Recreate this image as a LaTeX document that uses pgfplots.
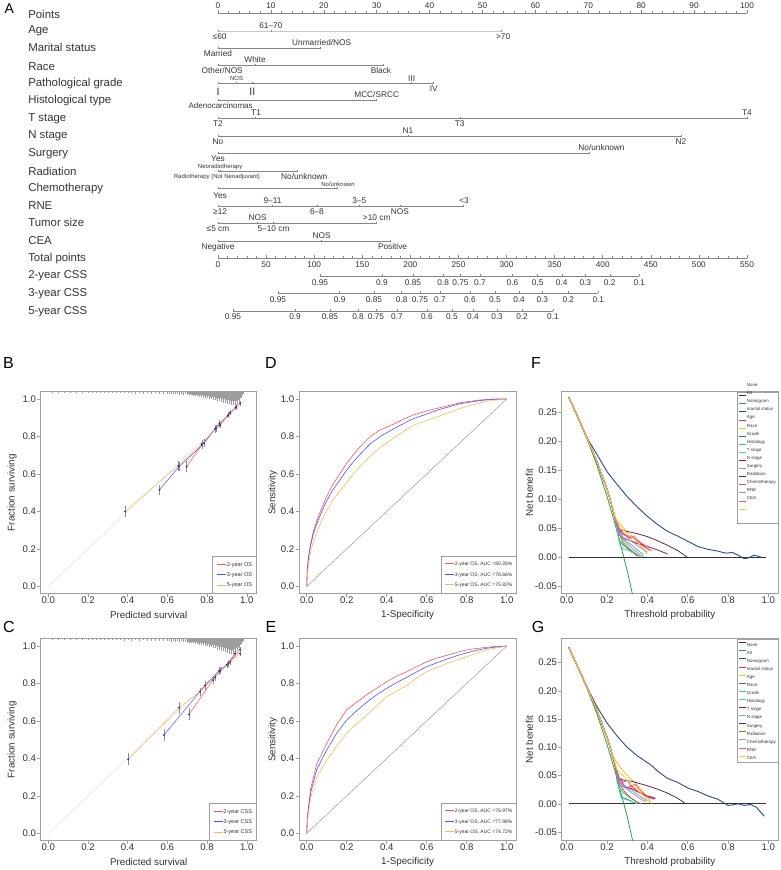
\documentclass[border=0pt]{standalone}
\usepackage{fontspec}
\setmainfont{Liberation Sans}
\usepackage{pgfplots}
\usepackage{pgfplotstable}
\pgfplotsset{compat=1.18}

\definecolor{txt}{HTML}{333333}
\definecolor{axc}{HTML}{A0A0A0}
\definecolor{nl}{HTML}{858585}
\definecolor{agel}{HTML}{C8C8C8}
\definecolor{ebar}{HTML}{8C8C8C}
\definecolor{cRed}{HTML}{FF5050}
\definecolor{cBlue}{HTML}{5050FF}
\definecolor{cOrg}{HTML}{FFB84D}
\definecolor{dot}{HTML}{2A2A9A}
\definecolor{dNone}{HTML}{333333}
\definecolor{dAll}{HTML}{2E9E3E}
\definecolor{dNomo}{HTML}{2B4A8C}
\definecolor{dMar}{HTML}{E8323C}
\definecolor{dAge}{HTML}{F5C518}
\definecolor{dRace}{HTML}{2A8B4A}
\definecolor{dGrade}{HTML}{4CC080}
\definecolor{dHist}{HTML}{3FD2D8}
\definecolor{dT}{HTML}{A3123F}
\definecolor{dN}{HTML}{74A8D8}
\definecolor{dSurg}{HTML}{5C2A4E}
\definecolor{dRad}{HTML}{A86A3C}
\definecolor{dChemo}{HTML}{A08CD8}
\definecolor{dRNE}{HTML}{FF4590}
\definecolor{dCEA}{HTML}{F2D43A}

\newcommand{\fs}[1]{\fontsize{#1}{#1}\selectfont}
\newcommand{\rl}[1]{\raisebox{12.5pt}[0pt][0pt]{#1}}

\tikzset{
  rowlab/.style={font=\fs{11.4}, text=txt, anchor=base west, inner sep=0pt},
  ab/.style={font=\fs{8.3}, text=txt, anchor=base, inner sep=0pt},
  sm/.style={font=\fs{6}, text=txt, anchor=base, inner sep=0pt},
  big/.style={font=\fs{10.7}, text=txt, anchor=base, inner sep=0pt},
  plab/.style={font=\fs{16}, anchor=center, inner sep=0pt},
}

\pgfplotsset{
  nomo/.style={scale only axis, width=529pt, height=320pt, ymin=0, ymax=320,
    y dir=reverse, hide axis, clip=false, at={(218pt,0pt)}, anchor=north west},
  nline/.style={color=nl, line width=0.6pt, forget plot},
  ntick/.style={only marks, mark=|, mark size=1.4pt, forget plot,
    mark options={color=nl, line width=0.5pt}},
  uptick/.style={only marks, mark=|, mark size=#1, forget plot,
    mark options={color=nl, line width=0.5pt, yshift=#1}},
  rpanel/.style={scale only axis, width=216pt, height=202pt,
    axis line style={axc, line width=0.5pt}, tick style={axc, line width=0.5pt},
    tick align=outside, tick pos=left, major tick length=3.5pt,
    ticklabel style={font=\fs{9.6}, text=txt, inner sep=1pt},
    xticklabel style={yshift=2pt},
    label style={font=\fs{9.8}, text=txt},
    xlabel style={at={(axis description cs:0.5,-0.104)}, anchor=center},
    xtick={0,0.2,0.4,0.6,0.8,1}, xticklabels={0.0,0.2,0.4,0.6,0.8,1.0}},
  unit/.style={rpanel, ymin=-0.039, ymax=1.039,
    ytick={0,0.2,0.4,0.6,0.8,1}, yticklabels={0.0,0.2,0.4,0.6,0.8,1.0}},
  calib/.style={unit, xmin=-0.038, xmax=1.05,
    xlabel={Predicted survival}, ylabel={Fraction surviving},
    ylabel style={at={(axis description cs:-0.133,0.5)}, anchor=center},
    legend cell align=left,
    legend style={at={(1,0)}, anchor=south east, draw=axc, line width=0.4pt,
      font=\fs{5.5}, text=txt, inner xsep=4pt, inner ysep=5pt, row sep=4pt,
      nodes={inner sep=0.5pt, text height=4.2pt, text depth=1.2pt}},
    legend image code/.code={\draw[##1, line width=1pt] (0pt,0pt) -- (9pt,0pt);}},
  roc/.style={unit, width=217pt, xmin=-0.0385, xmax=1.0465,
    xlabel={1-Specificity}, ylabel={Sensitivity},
    ylabel style={at={(axis description cs:-0.12,0.5)}, anchor=center},
    legend cell align=left,
    legend style={at={(1,0)}, anchor=south east, draw=axc, line width=0.4pt,
      font=\fs{5}, text=txt, inner xsep=3pt, inner ysep=5pt, row sep=4.5pt,
      nodes={inner sep=0.5pt, text height=4pt, text depth=1.2pt}},
    legend image code/.code={\draw[##1, line width=1pt] (0pt,0.5pt) -- (9pt,0.5pt);}},
  dca/.style={rpanel, width=216.3pt, xmin=-0.025, xmax=1.048,
    ytick={-0.05,0,0.05,0.1,0.15,0.2,0.25},
    yticklabels={-0.05,0.00,0.05,0.10,0.15,0.20,0.25},
    xlabel={Threshold probability}, ylabel={Net benefit},
    ylabel style={at={(axis description cs:-0.15,0.5)}, anchor=center},
    legend cell align=left,
    legend style={at={(1,1)}, anchor=north east, draw=axc, line width=0.4pt,
      font=\fs{4.4}, text=txt, inner xsep=1.5pt, inner ysep=1pt, row sep=0pt,
      nodes={inner sep=0.5pt, text height=5.6pt, text depth=1.5pt}},
    legend image code/.code={\draw[##1, line width=1pt] (0pt,1.2pt) -- (7pt,1.2pt);}},
  dc/.style={line width=0.8pt},
  spk/.style={draw=none, mark=none, forget plot, error bars/.cd, y dir=minus, y explicit,
    error mark=none, error bar style={color=black!38, line width=0.3pt}},
  pts/.style={only marks, mark=*, mark size=0.7pt, color=dot, forget plot,
    error bars/.cd, y dir=both, y explicit, error mark=-,
    error mark options={mark size=1.3pt, color=ebar, line width=0.4pt},
    error bar style={color=ebar, line width=0.4pt}},
}

% calibration tables
\pgfplotstableread{
x y e
0.697 0.639 0.022
0.773 0.755 0.015
0.840 0.840 0.012
0.866 0.861 0.010
0.916 0.927 0.008
0.966 0.977 0.005
}\bTwo
\pgfplotstableread{
x y e
0.560 0.515 0.020
0.659 0.639 0.018
0.785 0.764 0.015
0.862 0.870 0.010
0.908 0.915 0.008
0.945 0.959 0.005
}\bThree
\pgfplotstableread{
x y e
0.387 0.400 0.022
0.655 0.644 0.020
0.773 0.760 0.015
0.845 0.845 0.012
0.904 0.911 0.008
0.945 0.954 0.006
}\bFive
\pgfplotstableread{
x y e
0.709 0.635 0.025
0.829 0.819 0.015
0.866 0.867 0.012
0.916 0.916 0.009
0.966 0.982 0.005
}\cTwo
\pgfplotstableread{
x y e
0.583 0.525 0.025
0.790 0.790 0.018
0.860 0.868 0.012
0.908 0.907 0.010
0.940 0.960 0.008
}\cThree
\pgfplotstableread{
x y e
0.403 0.395 0.025
0.659 0.671 0.025
0.765 0.756 0.015
0.840 0.833 0.012
0.900 0.900 0.010
0.966 0.960 0.006
}\cFive

\pgfplotstableread{
x h
0.02 0.003
0.05 0.003
0.08 0.003
0.11 0.003
0.14 0.003
0.17 0.003
0.20 0.003
0.22 0.003
0.24 0.002
0.26 0.004
0.28 0.003
0.30 0.004
0.32 0.003
0.34 0.005
0.36 0.003
0.38 0.005
0.40 0.004
0.42 0.005
0.44 0.006
0.46 0.004
0.48 0.006
0.50 0.005
0.52 0.007
0.54 0.005
0.56 0.007
0.58 0.008
0.60 0.006
0.61 0.009
0.62 0.006
0.63 0.009
0.64 0.010
0.65 0.007
0.66 0.011
0.67 0.008
0.68 0.012
0.69 0.009
0.70 0.014
0.705 0.009
0.71 0.015
0.715 0.010
0.72 0.016
0.725 0.011
0.73 0.018
0.735 0.012
0.74 0.019
0.745 0.013
0.75 0.021
0.755 0.014
0.76 0.023
0.765 0.015
0.77 0.025
0.775 0.016
0.78 0.027
0.785 0.018
0.79 0.029
0.795 0.019
0.80 0.031
0.805 0.021
0.81 0.034
0.815 0.022
0.82 0.036
0.825 0.024
0.83 0.039
0.835 0.026
0.84 0.042
0.845 0.028
0.85 0.045
0.855 0.030
0.86 0.048
0.865 0.032
0.87 0.051
0.875 0.035
0.88 0.054
0.885 0.037
0.89 0.057
0.895 0.040
0.90 0.060
0.905 0.042
0.91 0.063
0.915 0.045
0.92 0.066
0.925 0.047
0.93 0.068
0.935 0.048
0.94 0.066
0.945 0.046
0.95 0.062
0.955 0.040
0.96 0.052
0.965 0.030
0.97 0.032
0.975 0.014
0.98 0.008
}\bSpk

\pgfplotstableread{
x h
0.02 0.003
0.05 0.003
0.08 0.003
0.11 0.003
0.14 0.003
0.17 0.003
0.20 0.003
0.22 0.003
0.24 0.003
0.26 0.004
0.28 0.003
0.30 0.004
0.32 0.004
0.34 0.005
0.36 0.004
0.38 0.006
0.40 0.004
0.42 0.006
0.44 0.005
0.46 0.007
0.48 0.005
0.50 0.007
0.52 0.008
0.54 0.006
0.56 0.009
0.58 0.007
0.60 0.010
0.61 0.008
0.62 0.011
0.63 0.008
0.64 0.012
0.65 0.009
0.66 0.013
0.67 0.010
0.68 0.015
0.69 0.011
0.70 0.017
0.705 0.011
0.71 0.018
0.715 0.012
0.72 0.019
0.725 0.013
0.73 0.021
0.735 0.014
0.74 0.023
0.745 0.015
0.75 0.025
0.755 0.017
0.76 0.027
0.765 0.018
0.77 0.029
0.775 0.020
0.78 0.031
0.785 0.021
0.79 0.034
0.795 0.023
0.80 0.036
0.805 0.025
0.81 0.039
0.815 0.027
0.82 0.042
0.825 0.029
0.83 0.045
0.835 0.031
0.84 0.048
0.845 0.034
0.85 0.052
0.855 0.036
0.86 0.056
0.865 0.039
0.87 0.060
0.875 0.042
0.88 0.064
0.885 0.045
0.89 0.069
0.895 0.048
0.90 0.073
0.905 0.051
0.91 0.076
0.915 0.054
0.92 0.078
0.925 0.055
0.93 0.075
0.935 0.052
0.94 0.070
0.945 0.048
0.95 0.062
0.955 0.040
0.96 0.048
0.965 0.028
0.97 0.024
0.975 0.012
0.98 0.006
}\cSpk

\begin{document}
\begin{tikzpicture}
\path[use as bounding box] (0pt,0pt) rectangle (780pt,-870pt);

\node[plab, font=\fs{14}] at (9.2pt,-8.3pt) {A};
\node[plab] at (8.5pt,-362.5pt) {B};
\node[plab] at (271pt,-362.5pt) {D};
\node[plab] at (536pt,-362.5pt) {F};
\node[plab] at (9pt,-627pt) {C};
\node[plab] at (271pt,-627pt) {E};
\node[plab] at (538pt,-627pt) {G};

%% ---------------- nomogram: variable rows (points scale 0-100)
\begin{axis}[nomo, xmin=0, xmax=100]
\node[rowlab] at (axis cs:-35.9,18.1) {Points};
\node[rowlab] at (axis cs:-35.9,33.4) {Age};
\node[rowlab] at (axis cs:-35.9,51.8) {Marital status};
\node[rowlab] at (axis cs:-35.9,70.1) {Race};
\node[rowlab] at (axis cs:-35.9,86.8) {Pathological grade};
\node[rowlab] at (axis cs:-35.9,103.4) {Histological type};
\node[rowlab] at (axis cs:-35.9,121.8) {T stage};
\node[rowlab] at (axis cs:-35.9,138.4) {N stage};
\node[rowlab] at (axis cs:-35.9,156.8) {Surgery};
\node[rowlab] at (axis cs:-35.9,175.1) {Radiation};
\node[rowlab] at (axis cs:-35.9,191.4) {Chemotherapy};
\node[rowlab] at (axis cs:-35.9,209.8) {RNE};
\node[rowlab] at (axis cs:-35.9,226.8) {Tumor size};
\node[rowlab] at (axis cs:-35.9,244.1) {CEA};
\node[rowlab] at (axis cs:-35.9,261.4) {Total points};
\node[rowlab] at (axis cs:-35.9,278.4) {2-year CSS};
\node[rowlab] at (axis cs:-35.9,296.8) {3-year CSS};
\node[rowlab] at (axis cs:-35.9,314.1) {5-year CSS};

% Points axis
\addplot[nline] coordinates {(0,13) (100,13)};
\addplot[uptick=1.6pt] coordinates {(0,13)(10,13)(20,13)(30,13)(40,13)(50,13)(60,13)(70,13)(80,13)(90,13)(100,13)};
\addplot[uptick=0.9pt] coordinates {(2,13)(4,13)(6,13)(8,13)(12,13)(14,13)(16,13)(18,13)(22,13)(24,13)(26,13)(28,13)(32,13)(34,13)(36,13)(38,13)(42,13)(44,13)(46,13)(48,13)(52,13)(54,13)(56,13)(58,13)(62,13)(64,13)(66,13)(68,13)(72,13)(74,13)(76,13)(78,13)(82,13)(84,13)(86,13)(88,13)(92,13)(94,13)(96,13)(98,13)};
\node[ab] at (axis cs:0,8) {0};
\node[ab] at (axis cs:10,8) {10};
\node[ab] at (axis cs:20,8) {20};
\node[ab] at (axis cs:30,8) {30};
\node[ab] at (axis cs:40,8) {40};
\node[ab] at (axis cs:50,8) {50};
\node[ab] at (axis cs:60,8) {60};
\node[ab] at (axis cs:70,8) {70};
\node[ab] at (axis cs:80,8) {80};
\node[ab] at (axis cs:90,8) {90};
\node[ab] at (axis cs:100,8) {100};

% Age
\addplot[nline, color=agel, line width=1pt] coordinates {(0,31) (53.5,31)};
\addplot[ntick] coordinates {(0,31)(10,31)(53.5,31)};
\node[ab] at (axis cs:10,28) {61–70};
\node[ab] at (axis cs:0.3,39.7) {≤60};
\node[ab] at (axis cs:53.9,39.7) {>70};
% Marital status
\addplot[nline] coordinates {(0,48) (19.4,48)};
\addplot[ntick] coordinates {(0,48)(19.4,48)};
\node[ab] at (axis cs:19.6,45) {Unmarried/NOS};
\node[ab] at (axis cs:0,56.7) {Married};
% Race
\addplot[nline] coordinates {(0,65) (31.2,65)};
\addplot[ntick] coordinates {(0,65)(7,65)(31.2,65)};
\node[ab] at (axis cs:7,62) {White};
\node[ab] at (axis cs:0.8,73.7) {Other/NOS};
\node[ab] at (axis cs:30.8,73.7) {Black};
% Pathological grade
\addplot[nline] coordinates {(0,83) (40.6,83)};
\addplot[ntick] coordinates {(0,83)(3.5,83)(6.5,83)(36.6,83)(40.6,83)};
\node[sm] at (axis cs:3.5,80.5) {NOS};
\node[big] at (axis cs:0,95) {I};
\node[big] at (axis cs:6.5,95) {II};
\node[ab] at (axis cs:36.6,81) {III};
\node[ab] at (axis cs:40.8,91.7) {IV};
% Histological type
\addplot[nline] coordinates {(0,100) (30,100)};
\addplot[ntick] coordinates {(0,100)(30,100)};
\node[ab] at (axis cs:30,97) {MCC/SRCC};
\node[ab, font=\fs{8}] at (axis cs:0.5,108.4) {Adenocarcinomas};
% T stage
\addplot[nline] coordinates {(0,118) (100,118)};
\addplot[ntick] coordinates {(0,118)(7,118)(45.7,118)(100,118)};
\node[ab] at (axis cs:7.2,115.3) {T1};
\node[ab] at (axis cs:100,115) {T4};
\node[ab] at (axis cs:0,126.7) {T2};
\node[ab] at (axis cs:45.7,126.7) {T3};
% N stage
\addplot[nline] coordinates {(0,136) (87.5,136)};
\addplot[ntick] coordinates {(0,136)(35.9,136)(87.5,136)};
\node[ab] at (axis cs:35.9,133) {N1};
\node[ab] at (axis cs:0,144.7) {No};
\node[ab] at (axis cs:87.5,144.7) {N2};
% Surgery
\addplot[nline] coordinates {(0,153) (70.2,153)};
\addplot[ntick] coordinates {(0,153)(70.2,153)};
\node[ab] at (axis cs:72.5,150.5) {No/unknown};
\node[ab] at (axis cs:0,161.7) {Yes};
% Radiation
\addplot[nline] coordinates {(0,171) (14.9,171)};
\addplot[ntick] coordinates {(0,171)(0.5,171)(14.9,171)};
\node[sm] at (axis cs:0.4,168) {Neoradiotherapy};
\node[sm] at (axis cs:-0.2,178.2) {Radiotherapy (Not Neoadjuvant)};
\node[ab] at (axis cs:16.3,179) {No/unknown};
% Chemotherapy
\addplot[nline] coordinates {(0,188) (22.5,188)};
\addplot[ntick] coordinates {(0,188)(22.5,188)};
\node[sm] at (axis cs:22.7,186.3) {No/unknown};
\node[ab] at (axis cs:0.4,198) {Yes};
% RNE
\addplot[nline] coordinates {(0,206) (46.3,206)};
\addplot[ntick] coordinates {(0,206)(10.3,206)(18.7,206)(26.7,206)(34.4,206)(46.3,206)};
\node[ab] at (axis cs:10.3,203) {9–11};
\node[ab] at (axis cs:26.7,203) {3–5};
\node[ab] at (axis cs:46.5,203) {<3};
\node[ab] at (axis cs:0.4,214.7) {≥12};
\node[ab] at (axis cs:18.7,214.7) {6–8};
\node[ab] at (axis cs:34.4,214.7) {NOS};
% Tumor size
\addplot[nline] coordinates {(0,223) (30,223)};
\addplot[ntick] coordinates {(0,223)(7.5,223)(10.5,223)(30,223)};
\node[ab] at (axis cs:7.5,220) {NOS};
\node[ab] at (axis cs:30,220) {>10 cm};
\node[ab] at (axis cs:0,231.7) {≤5 cm};
\node[ab] at (axis cs:10.5,231.7) {5–10 cm};
% CEA
\addplot[nline] coordinates {(0,241) (32.6,241)};
\addplot[ntick] coordinates {(0,241)(19.6,241)(32.6,241)};
\node[ab] at (axis cs:19.6,238) {NOS};
\node[ab] at (axis cs:0,249.7) {Negative};
\node[ab] at (axis cs:33,249.7) {Positive};
\end{axis}

%% ---------------- nomogram: total points and survival scales (0-550)
\begin{axis}[nomo, xmin=0, xmax=550]
\addplot[nline] coordinates {(0,258) (550,258)};
\addplot[uptick=1.6pt] coordinates {(0,258)(50,258)(100,258)(150,258)(200,258)(250,258)(300,258)(350,258)(400,258)(450,258)(500,258)(550,258)};
\addplot[uptick=0.9pt] coordinates {(10,258)(20,258)(30,258)(40,258)(60,258)(70,258)(80,258)(90,258)(110,258)(120,258)(130,258)(140,258)(160,258)(170,258)(180,258)(190,258)(210,258)(220,258)(230,258)(240,258)(260,258)(270,258)(280,258)(290,258)(310,258)(320,258)(330,258)(340,258)(360,258)(370,258)(380,258)(390,258)(410,258)(420,258)(430,258)(440,258)(460,258)(470,258)(480,258)(490,258)(510,258)(520,258)(530,258)(540,258)};
\node[ab] at (axis cs:0,267) {0};
\node[ab] at (axis cs:50,267) {50};
\node[ab] at (axis cs:100,267) {100};
\node[ab] at (axis cs:150,267) {150};
\node[ab] at (axis cs:200,267) {200};
\node[ab] at (axis cs:250,267) {250};
\node[ab] at (axis cs:300,267) {300};
\node[ab] at (axis cs:350,267) {350};
\node[ab] at (axis cs:400,267) {400};
\node[ab] at (axis cs:450,267) {450};
\node[ab] at (axis cs:500,267) {500};
\node[ab] at (axis cs:550,267) {550};

% 2-year CSS
\addplot[nline] coordinates {(106.0,276) (438.0,276)};
\addplot[uptick=1.2pt] coordinates {(106.0,276)(170.5,276)(202.7,276)(234.2,276)(252.1,276)(272.4,276)(306.2,276)(332.4,276)(357.4,276)(381.9,276)(407.3,276)(438.0,276)};
\node[ab] at (axis cs:106.0,285.5) {0.95};
\node[ab] at (axis cs:170.5,285.5) {0.9};
\node[ab] at (axis cs:202.7,285.5) {0.85};
\node[ab] at (axis cs:234.2,285.5) {0.8};
\node[ab] at (axis cs:252.1,285.5) {0.75};
\node[ab] at (axis cs:272.4,285.5) {0.7};
\node[ab] at (axis cs:306.2,285.5) {0.6};
\node[ab] at (axis cs:332.4,285.5) {0.5};
\node[ab] at (axis cs:357.4,285.5) {0.4};
\node[ab] at (axis cs:381.9,285.5) {0.3};
\node[ab] at (axis cs:407.3,285.5) {0.2};
\node[ab] at (axis cs:438.0,285.5) {0.1};
% 3-year CSS
\addplot[nline] coordinates {(62.4,293.3) (395.4,293.3)};
\addplot[uptick=1.2pt] coordinates {(62.4,293.3)(126.5,293.3)(162.2,293.3)(191.0,293.3)(210.0,293.3)(230.8,293.3)(262.0,293.3)(288.0,293.3)(313.0,293.3)(337.2,293.3)(364.2,293.3)(395.4,293.3)};
\node[ab] at (axis cs:62.4,302.1) {0.95};
\node[ab] at (axis cs:126.5,302.1) {0.9};
\node[ab] at (axis cs:162.2,302.1) {0.85};
\node[ab] at (axis cs:191.0,302.1) {0.8};
\node[ab] at (axis cs:210.0,302.1) {0.75};
\node[ab] at (axis cs:230.8,302.1) {0.7};
\node[ab] at (axis cs:262.0,302.1) {0.6};
\node[ab] at (axis cs:288.0,302.1) {0.5};
\node[ab] at (axis cs:313.0,302.1) {0.4};
\node[ab] at (axis cs:337.2,302.1) {0.3};
\node[ab] at (axis cs:364.2,302.1) {0.2};
\node[ab] at (axis cs:395.4,302.1) {0.1};
% 5-year CSS
\addplot[nline] coordinates {(15.6,311) (348.3,311)};
\addplot[uptick=1.2pt] coordinates {(15.6,311)(80.1,311)(116.4,311)(145.6,311)(164.3,311)(186.1,311)(217.3,311)(243.3,311)(265.1,311)(290.1,311)(316.1,311)(348.3,311)};
\node[ab] at (axis cs:15.6,319) {0.95};
\node[ab] at (axis cs:80.1,319) {0.9};
\node[ab] at (axis cs:116.4,319) {0.85};
\node[ab] at (axis cs:145.6,319) {0.8};
\node[ab] at (axis cs:164.3,319) {0.75};
\node[ab] at (axis cs:186.1,319) {0.7};
\node[ab] at (axis cs:217.3,319) {0.6};
\node[ab] at (axis cs:243.3,319) {0.5};
\node[ab] at (axis cs:265.1,319) {0.4};
\node[ab] at (axis cs:290.1,319) {0.3};
\node[ab] at (axis cs:316.1,319) {0.2};
\node[ab] at (axis cs:348.3,319) {0.1};
\end{axis}

%% ---------------- B: calibration OS
\begin{axis}[calib, at={(40.7pt,-391.7pt)}, anchor=north west]
\addplot[color=black!10, line width=0.6pt, forget plot] coordinates {(0,0) (1,1)};
\addplot[spk] table[x=x, y expr=1.035, y error=h] {\bSpk};
\addplot[cRed, line width=0.5pt] table[x=x, y=y] {\bTwo};
\addlegendentry{2-year OS}
\addplot[cBlue, line width=0.5pt] table[x=x, y=y] {\bThree};
\addlegendentry{3-year OS}
\addplot[cOrg, line width=0.5pt] table[x=x, y=y] {\bFive};
\addlegendentry{5-year OS}
\addplot[pts] table[x=x, y=y, y error=e] {\bTwo};
\addplot[pts] table[x=x, y=y, y error=e] {\bThree};
\addplot[pts] table[x=x, y=y, y error=e] {\bFive};
\end{axis}

%% ---------------- C: calibration CSS
\begin{axis}[calib, at={(40.7pt,-638.7pt)}, anchor=north west]
\addplot[color=black!10, line width=0.6pt, forget plot] coordinates {(0,0) (1,1)};
\addplot[spk] table[x=x, y expr=1.035, y error=h] {\cSpk};
\addplot[cRed, line width=0.5pt] table[x=x, y=y] {\cTwo};
\addlegendentry{2-year CSS}
\addplot[cBlue, line width=0.5pt] table[x=x, y=y] {\cThree};
\addlegendentry{3-year CSS}
\addplot[cOrg, line width=0.5pt] table[x=x, y=y] {\cFive};
\addlegendentry{5-year CSS}
\addplot[pts] table[x=x, y=y, y error=e] {\cTwo};
\addplot[pts] table[x=x, y=y, y error=e] {\cThree};
\addplot[pts] table[x=x, y=y, y error=e] {\cFive};
\end{axis}

%% ---------------- D: ROC OS
\begin{axis}[roc, at={(299pt,-391.7pt)}, anchor=north west]
\addplot[color=black!45, line width=0.4pt, forget plot] coordinates {(0,0) (1,1)};
\addplot[cRed, line width=0.6pt] coordinates {(0,0)(0.003,0.09)(0.008,0.15)(0.017,0.213)(0.033,0.293)(0.058,0.373)(0.092,0.462)(0.125,0.533)(0.167,0.604)(0.2,0.657)(0.233,0.702)(0.267,0.746)(0.317,0.799)(0.367,0.835)(0.433,0.865)(0.483,0.892)(0.533,0.915)(0.6,0.936)(0.667,0.954)(0.767,0.98)(0.867,0.995)(0.933,1)(1,1)};
\addlegendentry{2-year OS, AUC =80.26\%}
\addplot[cBlue, line width=0.6pt] coordinates {(0,0)(0.003,0.085)(0.008,0.145)(0.017,0.205)(0.033,0.28)(0.058,0.355)(0.092,0.44)(0.125,0.505)(0.167,0.57)(0.2,0.62)(0.233,0.665)(0.267,0.705)(0.317,0.76)(0.367,0.8)(0.433,0.84)(0.483,0.868)(0.533,0.895)(0.6,0.92)(0.667,0.945)(0.767,0.975)(0.867,0.992)(0.933,0.998)(1,1)};
\addlegendentry{3-year OS, AUC =78.66\%}
\addplot[cOrg, line width=0.6pt] coordinates {(0,0)(0.003,0.06)(0.008,0.11)(0.017,0.17)(0.033,0.24)(0.058,0.31)(0.092,0.39)(0.125,0.45)(0.167,0.51)(0.2,0.555)(0.233,0.6)(0.267,0.64)(0.317,0.695)(0.367,0.74)(0.433,0.79)(0.483,0.825)(0.533,0.86)(0.6,0.885)(0.667,0.91)(0.767,0.95)(0.867,0.98)(0.933,0.993)(1,1)};
\addlegendentry{5-year OS, AUC =75.82\%}
\end{axis}

%% ---------------- E: ROC CSS
\begin{axis}[roc, at={(299pt,-638.7pt)}, anchor=north west]
\addplot[color=black!45, line width=0.4pt, forget plot] coordinates {(0,0) (1,1)};
\addplot[cRed, line width=0.6pt] coordinates {(0,0)(0.003,0.08)(0.01,0.15)(0.02,0.24)(0.05,0.37)(0.1,0.48)(0.15,0.58)(0.2,0.66)(0.25,0.7)(0.3,0.74)(0.35,0.775)(0.4,0.81)(0.45,0.84)(0.5,0.863)(0.55,0.89)(0.6,0.916)(0.65,0.935)(0.7,0.95)(0.75,0.966)(0.8,0.979)(0.85,0.987)(0.9,0.993)(0.95,0.998)(1,1)};
\addlegendentry{2-year OS, AUC =79.97\%}
\addplot[cBlue, line width=0.6pt] coordinates {(0,0)(0.003,0.075)(0.01,0.14)(0.02,0.22)(0.05,0.34)(0.1,0.445)(0.15,0.535)(0.2,0.605)(0.25,0.655)(0.3,0.7)(0.35,0.74)(0.4,0.774)(0.45,0.805)(0.5,0.833)(0.55,0.862)(0.6,0.89)(0.65,0.91)(0.7,0.93)(0.75,0.948)(0.8,0.964)(0.85,0.977)(0.9,0.988)(0.95,0.995)(1,1)};
\addlegendentry{3-year OS, AUC =77.98\%}
\addplot[cOrg, line width=0.6pt] coordinates {(0,0)(0.003,0.06)(0.01,0.12)(0.02,0.19)(0.05,0.3)(0.1,0.39)(0.15,0.465)(0.2,0.534)(0.25,0.585)(0.3,0.632)(0.35,0.68)(0.4,0.73)(0.45,0.76)(0.5,0.79)(0.55,0.83)(0.6,0.863)(0.65,0.885)(0.7,0.907)(0.75,0.925)(0.8,0.943)(0.85,0.962)(0.9,0.979)(0.95,0.99)(1,1)};
\addlegendentry{5-year OS, AUC =74.72\%}
\end{axis}

%% ---------------- F: decision curves OS
\begin{axis}[dca, at={(561.7pt,-391.7pt)}, anchor=north west, ymin=-0.0626, ymax=0.2862]
\addplot[dc, dNone] coordinates {(0.01,0) (0.99,0)};
\addlegendentry{\rl{None}}
\addplot[dc, dAll] coordinates {(0.01,0.277)(0.05,0.246)(0.1,0.205)(0.15,0.159)(0.2,0.105)(0.25,0.045)(0.3,-0.023)(0.35,-0.101)};
\addlegendentry{\rl{All}}
\addplot[dc, dNomo, line width=0.9pt] coordinates {(0.01,0.277)(0.05,0.246)(0.1,0.207)(0.15,0.178)(0.2,0.148)(0.25,0.126)(0.3,0.105)(0.35,0.087)(0.4,0.071)(0.45,0.057)(0.5,0.045)(0.55,0.037)(0.6,0.028)(0.65,0.019)(0.7,0.014)(0.75,0.011)(0.78,0.008)(0.8,0.0075)(0.82,0.009)(0.85,0.004)(0.88,-0.002)(0.9,-0.001)(0.93,0.004)(0.95,0.002)(0.97,0)};
\addlegendentry{\rl{Nomogram}}
\addplot[dc, dMar] coordinates {(0.01,0.277)(0.05,0.246)(0.1,0.207)(0.15,0.165)(0.2,0.118)(0.22,0.094)(0.24,0.068)(0.26,0.048)(0.28,0.04)(0.3,0.036)(0.31,0.033)(0.32,0.037)(0.34,0.03)(0.36,0.027)(0.38,0.02)(0.4,0.015)(0.42,0.012)};
\addlegendentry{\rl{marital status}}
\addplot[dc, dAge] coordinates {(0.01,0.277)(0.05,0.246)(0.1,0.207)(0.15,0.165)(0.2,0.118)(0.22,0.094)(0.24,0.07)(0.25,0.064)(0.27,0.056)(0.3,0.044)(0.33,0.033)(0.36,0.022)(0.38,0.014)(0.4,0.006)};
\addlegendentry{\rl{Age}}
\addplot[dc, dRace] coordinates {(0.01,0.277)(0.05,0.246)(0.1,0.207)(0.15,0.165)(0.2,0.118)(0.22,0.094)(0.24,0.068)(0.25,0.045)(0.26,0.03)(0.28,0.022)(0.3,0.016)(0.32,0.01)(0.35,0.003)};
\addlegendentry{\rl{Race}}
\addplot[dc, dGrade] coordinates {(0.01,0.277)(0.05,0.246)(0.1,0.207)(0.15,0.165)(0.2,0.118)(0.22,0.094)(0.24,0.068)(0.26,0.04)(0.28,0.03)(0.3,0.024)(0.33,0.014)(0.36,0.006)(0.38,0.001)};
\addlegendentry{\rl{Grade}}
\addplot[dc, dHist] coordinates {(0.01,0.277)(0.05,0.246)(0.1,0.207)(0.15,0.165)(0.2,0.118)(0.22,0.094)(0.24,0.068)(0.25,0.045)(0.265,0.02)(0.28,0.015)(0.3,0.013)(0.33,0.008)(0.36,0.003)(0.37,0)};
\addlegendentry{\rl{Histology}}
\addplot[dc, dT] coordinates {(0.01,0.277)(0.05,0.246)(0.1,0.207)(0.15,0.165)(0.2,0.118)(0.22,0.094)(0.24,0.068)(0.26,0.046)(0.28,0.033)(0.31,0.03)(0.35,0.024)(0.4,0.019)(0.45,0.013)(0.5,0.006)};
\addlegendentry{\rl{T stage}}
\addplot[dc, dN] coordinates {(0.01,0.277)(0.05,0.246)(0.1,0.207)(0.15,0.165)(0.2,0.118)(0.22,0.094)(0.24,0.068)(0.26,0.045)(0.28,0.035)(0.32,0.028)(0.36,0.018)(0.4,0.009)};
\addlegendentry{\rl{N stage}}
\addplot[dc, dSurg] coordinates {(0.01,0.277)(0.05,0.246)(0.1,0.207)(0.15,0.165)(0.2,0.118)(0.22,0.094)(0.24,0.068)(0.26,0.048)(0.3,0.045)(0.35,0.041)(0.4,0.036)(0.45,0.029)(0.5,0.021)(0.55,0.012)(0.6,0)};
\addlegendentry{\rl{Surgery}}
\addplot[dc, dRad] coordinates {(0.01,0.277)(0.05,0.246)(0.1,0.207)(0.15,0.165)(0.2,0.118)(0.22,0.094)(0.24,0.068)(0.26,0.04)(0.28,0.026)(0.31,0.015)(0.34,0.007)(0.36,0.002)};
\addlegendentry{\rl{Radiation}}
\addplot[dc, dChemo] coordinates {(0.01,0.277)(0.05,0.246)(0.1,0.207)(0.15,0.165)(0.2,0.118)(0.22,0.094)(0.24,0.068)(0.26,0.042)(0.29,0.03)(0.32,0.022)(0.35,0.013)(0.38,0.005)};
\addlegendentry{\rl{Chemotherapy}}
\addplot[dc, dRNE] coordinates {(0.01,0.277)(0.05,0.246)(0.1,0.207)(0.15,0.165)(0.2,0.118)(0.22,0.094)(0.24,0.068)(0.26,0.05)(0.28,0.042)(0.3,0.038)(0.32,0.033)(0.33,0.037)(0.35,0.03)(0.37,0.025)(0.39,0.02)(0.41,0.017)};
\addlegendentry{\rl{RNE}}
\addplot[dc, dCEA] coordinates {(0.01,0.277)(0.05,0.246)(0.1,0.207)(0.15,0.165)(0.2,0.118)(0.22,0.094)(0.24,0.07)(0.26,0.055)(0.28,0.047)(0.31,0.04)(0.34,0.03)(0.37,0.02)(0.4,0.01)};
\addlegendentry{\rl{CEA}}
\addlegendimage{empty legend}
\addlegendentry{}
\end{axis}

%% ---------------- G: decision curves CSS
\begin{axis}[dca, at={(561.7pt,-638.7pt)}, anchor=north west, ymin=-0.0654, ymax=0.2925]
\addplot[dc, dNone] coordinates {(0.01,0) (0.99,0)};
\addlegendentry{None}
\addplot[dc, dAll] coordinates {(0.01,0.277)(0.05,0.246)(0.1,0.205)(0.15,0.159)(0.2,0.105)(0.25,0.045)(0.3,-0.023)(0.35,-0.101)};
\addlegendentry{All}
\addplot[dc, dNomo, line width=0.9pt] coordinates {(0.01,0.277)(0.05,0.246)(0.1,0.207)(0.15,0.172)(0.2,0.143)(0.25,0.12)(0.3,0.1)(0.35,0.085)(0.4,0.073)(0.43,0.065)(0.45,0.058)(0.5,0.045)(0.55,0.038)(0.6,0.028)(0.65,0.022)(0.7,0.014)(0.75,0.008)(0.8,-0.003)(0.82,-0.002)(0.85,0)(0.88,-0.003)(0.91,-0.001)(0.94,-0.006)(0.98,-0.022)};
\addlegendentry{Nomogram}
\addplot[dc, dMar] coordinates {(0.01,0.277)(0.05,0.246)(0.1,0.207)(0.15,0.165)(0.2,0.118)(0.22,0.094)(0.24,0.068)(0.26,0.044)(0.28,0.035)(0.3,0.028)(0.32,0.032)(0.34,0.025)(0.37,0.018)(0.4,0.012)(0.44,0.009)};
\addlegendentry{marital status}
\addplot[dc, dAge] coordinates {(0.01,0.277)(0.05,0.246)(0.1,0.207)(0.15,0.165)(0.2,0.118)(0.23,0.084)(0.25,0.072)(0.28,0.058)(0.31,0.047)(0.34,0.037)(0.37,0.025)(0.4,0.012)(0.42,0)};
\addlegendentry{Age}
\addplot[dc, dRace] coordinates {(0.01,0.277)(0.05,0.246)(0.1,0.207)(0.15,0.165)(0.2,0.118)(0.22,0.094)(0.24,0.068)(0.25,0.04)(0.27,0.012)(0.3,0.008)(0.33,0.003)(0.35,0)};
\addlegendentry{Race}
\addplot[dc, dGrade] coordinates {(0.01,0.277)(0.05,0.246)(0.1,0.207)(0.15,0.165)(0.2,0.118)(0.22,0.094)(0.24,0.068)(0.26,0.03)(0.28,0.02)(0.31,0.012)(0.34,0.005)(0.36,0)};
\addlegendentry{Grade}
\addplot[dc, dHist] coordinates {(0.01,0.277)(0.05,0.246)(0.1,0.207)(0.15,0.165)(0.2,0.118)(0.22,0.094)(0.24,0.068)(0.26,0.03)(0.27,0.01)(0.3,0.007)(0.33,0.003)(0.35,0)};
\addlegendentry{Histology}
\addplot[dc, dT] coordinates {(0.01,0.277)(0.05,0.246)(0.1,0.207)(0.15,0.165)(0.2,0.118)(0.22,0.094)(0.24,0.068)(0.26,0.04)(0.28,0.03)(0.32,0.027)(0.36,0.02)(0.4,0.014)(0.44,0.01)};
\addlegendentry{T stage}
\addplot[dc, dN] coordinates {(0.01,0.277)(0.05,0.246)(0.1,0.207)(0.15,0.165)(0.2,0.118)(0.22,0.094)(0.24,0.068)(0.26,0.04)(0.29,0.03)(0.33,0.022)(0.37,0.012)(0.4,0.005)};
\addlegendentry{N stage}
\addplot[dc, dSurg] coordinates {(0.01,0.277)(0.05,0.246)(0.1,0.207)(0.15,0.165)(0.2,0.118)(0.22,0.094)(0.24,0.068)(0.26,0.045)(0.28,0.042)(0.32,0.04)(0.36,0.036)(0.4,0.032)(0.45,0.026)(0.5,0.019)(0.55,0.01)(0.59,0)};
\addlegendentry{Surgery}
\addplot[dc, dRad] coordinates {(0.01,0.277)(0.05,0.246)(0.1,0.207)(0.15,0.165)(0.2,0.118)(0.22,0.094)(0.24,0.068)(0.26,0.035)(0.29,0.02)(0.32,0.01)(0.35,0.003)(0.37,0)};
\addlegendentry{Radiation}
\addplot[dc, dChemo] coordinates {(0.01,0.277)(0.05,0.246)(0.1,0.207)(0.15,0.165)(0.2,0.118)(0.22,0.094)(0.24,0.068)(0.26,0.038)(0.29,0.028)(0.33,0.018)(0.36,0.01)(0.39,0.004)};
\addlegendentry{Chemotherapy}
\addplot[dc, dRNE] coordinates {(0.01,0.277)(0.05,0.246)(0.1,0.207)(0.15,0.165)(0.2,0.118)(0.22,0.094)(0.24,0.068)(0.26,0.045)(0.28,0.038)(0.3,0.042)(0.32,0.03)(0.34,0.035)(0.36,0.025)(0.38,0.018)(0.4,0.012)(0.43,0.008)};
\addlegendentry{RNE}
\addplot[dc, dCEA] coordinates {(0.01,0.277)(0.05,0.246)(0.1,0.207)(0.15,0.165)(0.2,0.118)(0.22,0.094)(0.25,0.06)(0.28,0.05)(0.31,0.038)(0.34,0.028)(0.37,0.018)(0.41,0.003)};
\addlegendentry{CEA}
\end{axis}
\end{tikzpicture}
\end{document}
